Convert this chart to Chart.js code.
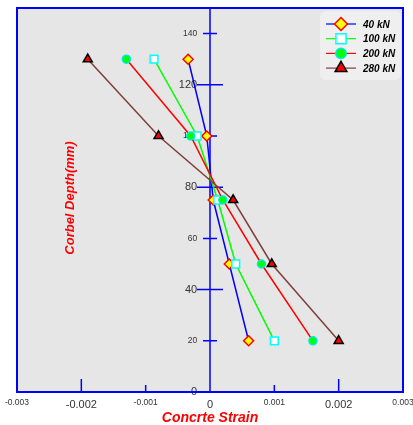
<!DOCTYPE html>
<html>
<head>
<meta charset="utf-8">
<script src="https://cdn.jsdelivr.net/npm/chart.js@4.4.1/dist/chart.umd.min.js"></script>
<style>
  html, body { margin: 0; padding: 0; background: #fff; }
  #wrap { width: 413px; height: 425px; }
</style>
</head>
<body>
<div id="wrap"><canvas id="chart" width="413" height="425"></canvas></div>
<script>
// gauge depths (mm)
const depths = [130, 100, 75, 50, 20];
// concrete strain at each depth, one list per load
const strain40 = [-0.00034, -0.00005, 0.00005, 0.0003, 0.0006];
const strain100 = [-0.00087, -0.0002, 0.00012, 0.0004, 0.001];
const strain200 = [-0.0013, -0.0003, 0.0002, 0.0008, 0.0016];
const strain280 = [-0.0019, -0.0008, 0.00036, 0.00096, 0.002];
const seriesNames = ['40 kN', '100 kN', '200 kN', '280 kN'];
const xTickLabels = ['-0.003', '-0.002', '-0.001', '0', '0.001', '0.002', '0.003'];
const yTickLabels = ['0', '20', '40', '60', '80', '100', '120', '140'];

const FONT = '"Liberation Sans", Arial, sans-serif';
const BLUE = '#0000ff';

// line colour, marker fill, marker edge, marker shape, radius
const looks = [
    { line: '#0000ff', fill: '#ffff00', edge: '#ff0000', shape: 'rectRot', r: 5 },
    { line: '#00ff00', fill: '#ffffff', edge: '#00ffff', shape: 'rect', r: 5.5 },
    { line: '#ff0000', fill: '#00ff00', edge: '#00e6e6', shape: 'circle', r: 4 },
    { line: '#7f3f3f', fill: '#ff0000', edge: '#000000', shape: 'triangle', r: 5.2 }
];

function makePoints(xs) {
    return xs.map((v, i) => ({ x: v, y: depths[i] }));
}

const allStrains = [strain40, strain100, strain200, strain280];
const datasets = allStrains.map((s, i) => ({
    label: seriesNames[i],
    data: makePoints(s),
    borderColor: looks[i].line,
    borderWidth: 1.5,
    backgroundColor: looks[i].fill,
    pointBackgroundColor: looks[i].fill,
    pointBorderColor: looks[i].edge,
    pointBorderWidth: 1.5,
    pointStyle: looks[i].shape,
    pointRadius: looks[i].r,
    tension: 0,
    fill: false,
    order: 3 - i
}));

// grey plot background + blue frame
const frame = {
    id: 'frame',
    beforeDraw(chart) {
        const { ctx, chartArea: a } = chart;
        ctx.save();
        ctx.fillStyle = '#e6e6e6';
        ctx.fillRect(a.left, a.top, a.right - a.left, a.bottom - a.top);
        ctx.restore();
    },
    beforeDatasetsDraw(chart) {
        const { ctx, chartArea: a, scales } = chart;
        const x0 = scales.x.getPixelForValue(0);
        ctx.save();
        ctx.strokeStyle = BLUE;
        ctx.lineWidth = 2;
        ctx.strokeRect(a.left, a.top, a.right - a.left, a.bottom - a.top);
        // y axis line and its ticks
        ctx.lineWidth = 1.5;
        ctx.beginPath();
        ctx.moveTo(x0, a.top);
        ctx.lineTo(x0, a.bottom);
        scales.y.ticks.forEach(t => {
            const py = scales.y.getPixelForValue(t.value);
            const len = t.value % 40 === 0 ? 13 : 7;
            ctx.moveTo(x0 - len, py);
            ctx.lineTo(x0 + len, py);
        });
        // x ticks up from the bottom
        scales.x.ticks.forEach(t => {
            const v = Math.abs(t.value);
            if (v < 1e-9 || v > 0.0029) return;
            const px = scales.x.getPixelForValue(t.value);
            const len = Math.abs(v - 0.002) < 1e-9 ? 13 : 7;
            ctx.moveTo(px, a.bottom);
            ctx.lineTo(px, a.bottom - len);
        });
        ctx.stroke();
        ctx.restore();
    }
};

// y title sits inside the plot
const yTitle = {
    id: 'yTitle',
    afterDraw(chart) {
        const { ctx, chartArea: a } = chart;
        ctx.save();
        ctx.translate(a.left + 53, (a.top + a.bottom) / 2 - 2);
        ctx.rotate(-Math.PI / 2);
        ctx.font = 'italic bold 13px ' + FONT;
        ctx.fillStyle = '#ff0000';
        ctx.textAlign = 'center';
        ctx.textBaseline = 'middle';
        ctx.fillText('Corbel Depth(mm)', 0, 0);
        ctx.restore();
    }
};

// legend box, top right
const legendBox = {
    id: 'legendBox',
    afterDraw(chart) {
        const { ctx, chartArea: a } = chart;
        const w = 81, h = 69;
        const bx = a.right - w - 2, by = a.top + 3;
        ctx.save();
        ctx.fillStyle = '#efefef';
        ctx.beginPath();
        ctx.roundRect(bx, by, w, h, 6);
        ctx.fill();
        datasets.forEach((ds, i) => {
            const ry = by + 13 + i * 14.7;
            ctx.strokeStyle = looks[i].line;
            ctx.lineWidth = 1.2;
            ctx.beginPath();
            ctx.moveTo(bx + 6, ry);
            ctx.lineTo(bx + 36, ry);
            ctx.stroke();
            ctx.fillStyle = looks[i].fill;
            ctx.strokeStyle = looks[i].edge;
            ctx.lineWidth = 1.5;
            Chart.helpers.drawPoint(ctx, { pointStyle: looks[i].shape, radius: looks[i].r * 1.3, rotation: 0, borderWidth: 1.5 }, bx + 21, ry);
            ctx.fillStyle = '#000';
            ctx.font = 'italic bold 10px ' + FONT;
            ctx.textAlign = 'left';
            ctx.textBaseline = 'middle';
            ctx.fillText(ds.label, bx + 43, ry + 1);
        });
        ctx.restore();
    }
};

new Chart(document.getElementById('chart'), {
    type: 'line',
    data: { datasets: datasets },
    plugins: [frame, yTitle, legendBox],
    options: {
        responsive: false,
        animation: false,
        devicePixelRatio: 1,
        layout: { padding: { left: 17, right: 10, top: 8, bottom: 0 } },
        plugins: {
            legend: { display: false },
            tooltip: { enabled: false }
        },
        scales: {
            x: {
                type: 'linear',
                min: -0.003,
                max: 0.003,
                afterFit: (scale) => {
                    scale.height = 33;
                    scale.paddingLeft = 0;
                    scale.paddingRight = 0;
                },
                ticks: {
                    stepSize: 0.001,
                    padding: 6,
                    color: '#333',
                    maxRotation: 0,
                    autoSkip: false,
                    font: (c) => ({ family: FONT, size: c.index % 2 === 1 ? 11 : 8.5 }),
                    callback: (v, i) => xTickLabels[i]
                },
                grid: { drawOnChartArea: false, drawTicks: false },
                border: { color: BLUE, width: 2 },
                title: {
                    display: true,
                    text: 'Concrte Strain',
                    color: '#ff0000',
                    font: { family: FONT, size: 14, style: 'italic', weight: 'bold' },
                    padding: { top: 0, bottom: -2 }
                }
            },
            y: {
                type: 'linear',
                min: 0,
                max: 150,
                // labels hang just left of the zero line
                position: { x: -0.0002 },
                afterFit: (scale) => {
                    scale.paddingTop = 0;
                    scale.paddingBottom = 0;
                },
                ticks: {
                    stepSize: 20,
                    includeBounds: false,
                    color: '#333',
                    autoSkip: false,
                    font: (c) => ({ family: FONT, size: c.index % 2 === 0 ? 11 : 8.5 }),
                    callback: (v, i) => yTickLabels[i]
                },
                grid: { drawOnChartArea: false, drawTicks: false },
                border: { display: false }
            }
        }
    }
});
</script>
</body>
</html>
